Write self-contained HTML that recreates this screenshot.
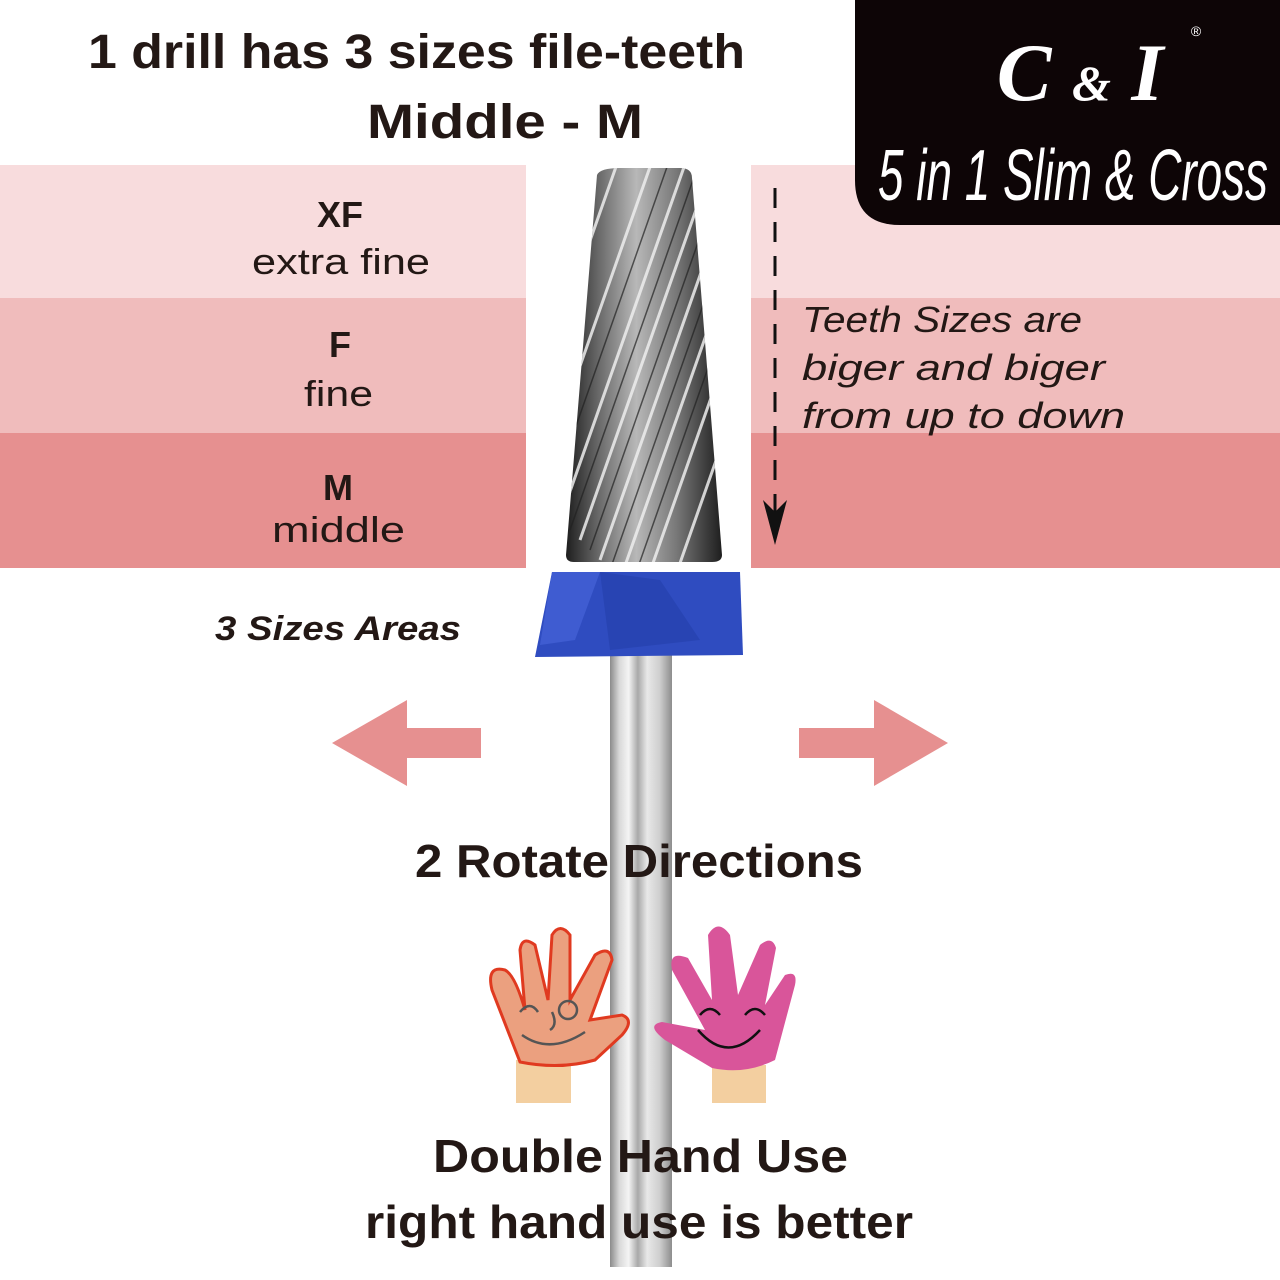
<!DOCTYPE html>
<html><head><meta charset="utf-8"><style>
html,body{margin:0;padding:0;background:#fff}
svg{display:block}
</style></head><body>
<svg width="1280" height="1280" viewBox="0 0 1280 1280" xmlns="http://www.w3.org/2000/svg">
<defs>
<linearGradient id="shank" x1="0" x2="1" y1="0" y2="0">
<stop offset="0" stop-color="#8a8a8a"/><stop offset="0.15" stop-color="#d8d8d8"/><stop offset="0.3" stop-color="#f4f4f4"/><stop offset="0.45" stop-color="#a9a9a9"/><stop offset="0.6" stop-color="#e8e8e8"/><stop offset="0.8" stop-color="#cfcfcf"/><stop offset="1" stop-color="#8d8d8d"/>
</linearGradient>
<linearGradient id="cone" x1="0" x2="1" y1="0" y2="0">
<stop offset="0" stop-color="#1e1e1e"/><stop offset="0.2" stop-color="#666"/><stop offset="0.45" stop-color="#b8b8b8"/><stop offset="0.7" stop-color="#7a7a7a"/><stop offset="1" stop-color="#1e1e1e"/>
</linearGradient>
<clipPath id="cc"><path d="M597 175 Q600 168 620 168 L680 168 Q692 168 692 178 L722 555 Q722 562 712 562 L574 562 Q566 562 566 555 Z"/></clipPath>
</defs>
<rect width="1280" height="1280" fill="#fff"/>
<rect x="0" y="165" width="526" height="133" fill="#f8dcdd"/>
<rect x="0" y="298" width="526" height="135" fill="#f0bcbc"/>
<rect x="0" y="433" width="526" height="135" fill="#e69090"/>
<rect x="751" y="165" width="529" height="133" fill="#f8dcdd"/>
<rect x="751" y="298" width="529" height="135" fill="#f0bcbc"/>
<rect x="751" y="433" width="529" height="135" fill="#e69090"/>
<path d="M855 0 H1280 V225 H900 Q855 225 855 180 Z" fill="#0d0506"/>
<text x="1080" y="100" text-anchor="middle" font-family="Liberation Serif, serif" font-style="italic" font-weight="bold" font-size="82" fill="#fff">C <tspan font-size="50">&amp;</tspan> I</text>
<text x="1196" y="36" text-anchor="middle" font-family="Liberation Sans, sans-serif" font-size="14" fill="#fff">®</text>
<text x="878" y="200" font-family="Liberation Sans Narrow, Liberation Sans, sans-serif" font-size="72" fill="#fff" font-style="italic" textLength="390" lengthAdjust="spacingAndGlyphs">5 in 1 Slim &amp; Cross</text>
<g font-family="Liberation Sans, sans-serif" fill="#231815" font-weight="bold" lengthAdjust="spacingAndGlyphs">
<text x="88" y="68" font-size="48" textLength="657" lengthAdjust="spacingAndGlyphs">1 drill has 3 sizes file-teeth</text>
<text x="367" y="138" font-size="48" textLength="276" lengthAdjust="spacingAndGlyphs">Middle - M</text>
<text x="340" y="227" text-anchor="middle" font-size="36">XF</text>
<text x="340" y="357" text-anchor="middle" font-size="36">F</text>
<text x="338" y="500" text-anchor="middle" font-size="36">M</text>
<text x="215" y="640" font-size="34" font-style="italic" textLength="246" lengthAdjust="spacingAndGlyphs">3 Sizes Areas</text>
</g>
<g font-family="Liberation Sans, sans-serif" fill="#231815" font-size="36">
<text x="252" y="274" textLength="178" lengthAdjust="spacingAndGlyphs">extra fine</text>
<text x="304" y="406" textLength="69" lengthAdjust="spacingAndGlyphs">fine</text>
<text x="272" y="542" textLength="133" lengthAdjust="spacingAndGlyphs">middle</text>
</g>
<g font-family="Liberation Sans, sans-serif" fill="#231815" font-size="36" font-style="italic">
<text x="802" y="332" textLength="280" lengthAdjust="spacingAndGlyphs">Teeth Sizes are</text>
<text x="802" y="380" textLength="303" lengthAdjust="spacingAndGlyphs">biger and biger</text>
<text x="802" y="428" textLength="323" lengthAdjust="spacingAndGlyphs">from up to down</text>
</g>
<line x1="775" y1="188" x2="775" y2="515" stroke="#111" stroke-width="3" stroke-dasharray="20 14"/>
<path d="M763 500 L775 545 L787 500 L775 512 Z" fill="#111"/>
<rect x="610" y="655" width="62" height="612" fill="url(#shank)"/>
<path d="M597 175 Q600 168 620 168 L680 168 Q692 168 692 178 L722 555 Q722 562 712 562 L574 562 Q566 562 566 555 Z" fill="url(#cone)"/>
<g clip-path="url(#cc)" stroke="#eee" stroke-width="3" opacity="0.85">
<line x1="560" y1="520" x2="690" y2="150"/><line x1="580" y1="540" x2="710" y2="170"/><line x1="600" y1="560" x2="730" y2="190"/><line x1="620" y1="580" x2="750" y2="210"/><line x1="640" y1="600" x2="770" y2="230"/><line x1="540" y1="480" x2="670" y2="110"/><line x1="660" y1="620" x2="790" y2="250"/><line x1="520" y1="440" x2="650" y2="70"/>
</g>
<g clip-path="url(#cc)" stroke="#222" stroke-width="1.5" opacity="0.7">
<line x1="570" y1="530" x2="700" y2="160"/><line x1="590" y1="550" x2="720" y2="180"/><line x1="610" y1="570" x2="740" y2="200"/><line x1="630" y1="590" x2="760" y2="220"/><line x1="550" y1="500" x2="680" y2="130"/>
</g>
<path d="M552 572 L740 572 L743 655 L535 657 Z" fill="#2f4cc0"/>
<path d="M552 572 L600 572 L575 640 L540 645 Z" fill="#4664d8" opacity="0.7"/>
<path d="M600 572 L660 580 L700 640 L610 650 Z" fill="#2440aa" opacity="0.6"/>
<path d="M332 743 L407 700 L407 728 L481 728 L481 758 L407 758 L407 786 Z" fill="#e69090"/>
<path d="M948 743 L874 700 L874 728 L799 728 L799 758 L874 758 L874 786 Z" fill="#e69090"/>
<g font-family="Liberation Sans, sans-serif" fill="#231815" font-weight="bold">
<text x="415" y="877" font-size="46" textLength="448" lengthAdjust="spacingAndGlyphs">2 Rotate Directions</text>
<text x="433" y="1172" font-size="46" textLength="415" lengthAdjust="spacingAndGlyphs">Double Hand Use</text>
<text x="365" y="1238" font-size="46" textLength="548" lengthAdjust="spacingAndGlyphs">right hand use is better</text>
</g>
<rect x="516" y="1060" width="55" height="43" fill="#f3cfa0"/>
<path d="M520 1062 L492 990 Q486 965 505 970 Q515 975 525 1010 L520 950 Q522 935 535 945 L548 1000 L552 935 Q560 922 570 935 L570 1000 L595 955 Q610 945 612 960 L590 1020 L622 1015 Q635 1020 622 1035 L595 1060 Q560 1070 520 1062 Z" fill="#eba07f" stroke="#e03a20" stroke-width="3"/>
<rect x="712" y="1065" width="54" height="38" fill="#f3cfa0"/>
<path d="M712 1068 L665 1040 Q645 1025 662 1022 L705 1030 L672 970 Q668 950 688 958 L712 1000 L708 935 Q718 918 730 935 L738 995 L760 945 Q772 935 776 948 L765 1005 L785 975 Q798 970 795 985 L775 1060 Q745 1075 712 1068 Z" fill="#d9559a"/>
<g fill="none" stroke="#555" stroke-width="2.5">
<path d="M520 1012 Q530 1000 538 1012"/><circle cx="568" cy="1010" r="9"/><path d="M552 1012 Q558 1025 550 1030"/><path d="M522 1035 Q550 1055 585 1032"/>
</g>
<g fill="none" stroke="#111" stroke-width="2.5">
<path d="M700 1015 Q710 1003 720 1015"/><path d="M745 1015 Q755 1003 765 1015"/><path d="M698 1030 Q728 1065 760 1030"/>
</g>
</svg>
</body></html>
